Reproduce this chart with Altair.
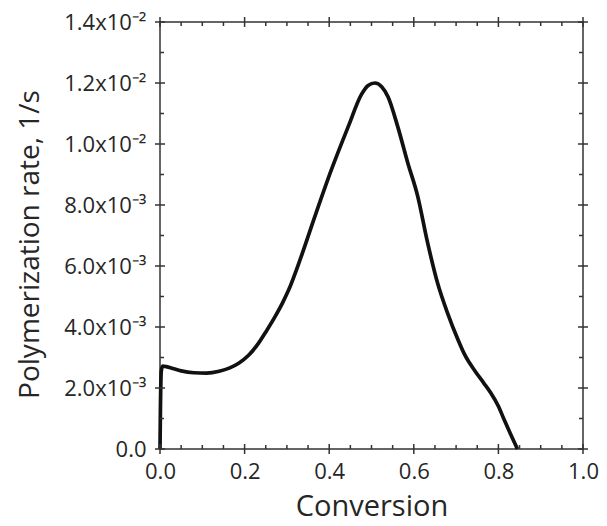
import altair as alt
import pandas as pd

# ---- data ----
conversion = [0.0, 0.001, 0.003, 0.006, 0.015, 0.03, 0.05, 0.08, 0.11, 0.14,
              0.165, 0.186, 0.21, 0.233, 0.252, 0.272, 0.29, 0.304, 0.331, 0.366,
              0.405, 0.445, 0.476, 0.492, 0.508, 0.524, 0.539, 0.562, 0.586, 0.609,
              0.633, 0.656, 0.68, 0.704, 0.72, 0.745, 0.765, 0.781, 0.8, 0.814,
              0.83, 0.845]
rate_e3 = [0.0, 1.3, 2.55, 2.72, 2.7, 2.64, 2.56, 2.5, 2.49, 2.55,
           2.66, 2.81, 3.08, 3.47, 3.88, 4.34, 4.8, 5.21, 6.2, 7.62,
           9.15, 10.57, 11.62, 11.92, 12.0, 11.88, 11.55, 10.57, 9.37, 8.3,
           6.74, 5.45, 4.45, 3.6, 3.1, 2.55, 2.17, 1.86, 1.4, 0.95,
           0.45, 0.0]
rate = [v / 1000.0 for v in rate_e3]

x_major = [0.0, 0.2, 0.4, 0.6, 0.8, 1.0]
x_minor = [0.05, 0.1, 0.15, 0.25, 0.3, 0.35, 0.45, 0.5, 0.55,
           0.65, 0.7, 0.75, 0.85, 0.9, 0.95]
y_major = [0.0, 0.002, 0.004, 0.006, 0.008, 0.010, 0.012, 0.014]
y_minor = [0.001, 0.003, 0.005, 0.007, 0.009, 0.011, 0.013]
y_labels = ["0.0", "2.0x10\u207b\u00b3", "4.0x10\u207b\u00b3", "6.0x10\u207b\u00b3",
            "8.0x10\u207b\u00b3", "1.0x10\u207b\u00b2", "1.2x10\u207b\u00b2", "1.4x10\u207b\u00b2"]

df = pd.DataFrame({"conv": conversion, "rate": rate})
xmaj = pd.DataFrame({"conv": x_major})
xmin = pd.DataFrame({"conv": x_minor})
ymaj = pd.DataFrame({"rate": y_major})
ymin = pd.DataFrame({"rate": y_minor})

W, H = 423, 427
FONT = "Open Sans"
TXT = "#262626"
AX = "#333333"
xs = alt.Scale(domain=[0, 1], nice=False, zero=False)
ys = alt.Scale(domain=[0, 0.014], nice=False, zero=False)

y_label_expr = "[" + ",".join("'" + s + "'" for s in y_labels) + "][round(datum.value/0.002)]"

x_main = alt.X("conv:Q", scale=xs, axis=alt.Axis(
    orient="bottom", values=x_major, format=".1f", title="Conversion",
    domain=False, grid=False, ticks=False, labelPadding=12, labelFlush=False,
    labelFont=FONT, labelFontSize=22, labelColor=TXT,
    titleFont=FONT, titleFontSize=29, titleFontWeight="normal", titleColor=TXT,
    titleY=66, titleBaseline="alphabetic"))
y_main = alt.Y("rate:Q", scale=ys, axis=alt.Axis(
    orient="left", values=y_major, labelExpr=y_label_expr,
    title="Polymerization rate, 1/s",
    domain=False, grid=False, ticks=False, labelPadding=14, labelFlush=False,
    labelFont=FONT, labelFontSize=22, labelColor=TXT,
    titleFont=FONT, titleFontSize=28, titleFontWeight="normal", titleColor=TXT,
    titleX=-122, titleY=222, titleAngle=270, titleAlign="center",
    titleBaseline="alphabetic"))

line = alt.Chart(df).mark_line(color="#111111", strokeWidth=3.7,
                               interpolate="monotone").encode(x=x_main, y=y_main)


def xticks(data, a, b):
    return alt.Chart(data).mark_rule(color=AX, strokeWidth=1.5, clip=False).encode(
        x=alt.X("conv:Q", scale=xs), y=alt.value(a), y2=alt.value(b))


def yticks(data, a, b):
    return alt.Chart(data).mark_rule(color=AX, strokeWidth=1.5, clip=False).encode(
        y=alt.Y("rate:Q", scale=ys), x=alt.value(a), x2=alt.value(b))


ticks = [
    xticks(xmaj, H - 5, H + 5), xticks(xmaj, -5, 5),
    xticks(xmin, H - 4, H), xticks(xmin, 0, 4),
    yticks(ymaj, -5, 5), yticks(ymaj, W - 5, W + 5),
    yticks(ymin, 0, 4), yticks(ymin, W - 4, W),
]

chart = alt.layer(line, *ticks).properties(
    width=W, height=H,
    autosize=alt.AutoSizeParams(type="none"),
    padding={"left": 152, "top": 14, "right": 16, "bottom": 69},
).configure_view(stroke=AX, strokeWidth=1.5)

chart.save("out.html", embed_options={"renderer": "svg", "actions": False})
